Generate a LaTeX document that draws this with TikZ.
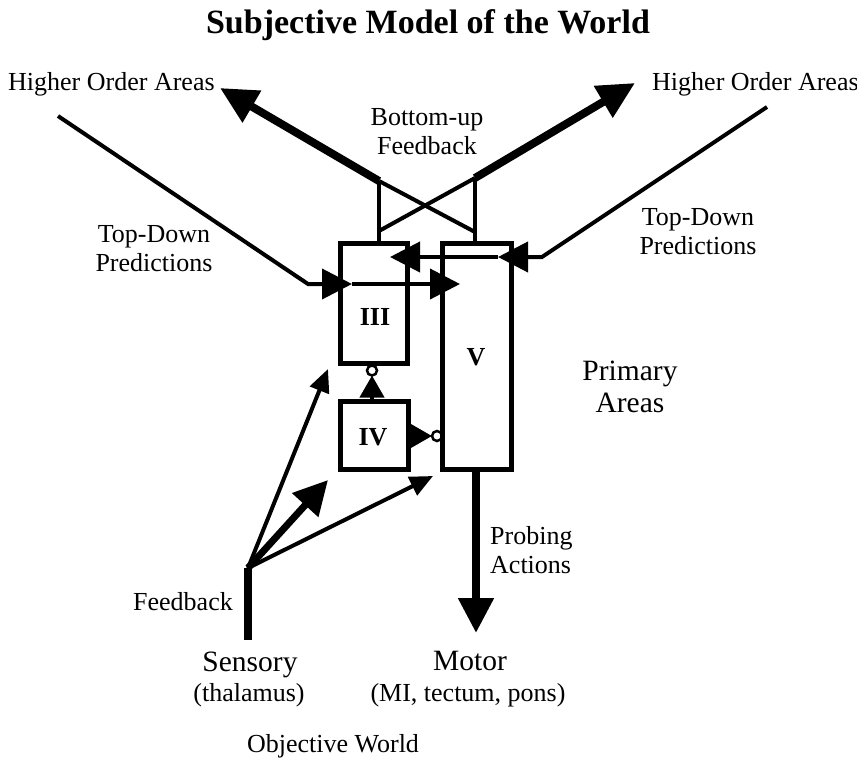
\documentclass[tikz,border=0pt]{standalone}
\usepackage{fontspec}
\setmainfont{Liberation Serif}
\usetikzlibrary{arrows.meta,calc}
\begin{document}
\begin{tikzpicture}[x=1pt,y=-1pt,
 box/.style={draw,line width=5pt,inner sep=0pt,outer sep=0pt},
 txt/.style={font=\fontsize{26}{29}\selectfont,inner sep=0pt,align=center},
 bigtxt/.style={font=\fontsize{29.5}{32}\selectfont,inner sep=0pt,align=center},
 roman/.style={font=\bfseries\fontsize{26}{28}\selectfont,inner sep=0pt},
 conn/.style={line width=4pt},
 heavy/.style={line width=8pt},
 inhib/.style={circle,draw,line width=2.5pt,minimum size=10pt,inner sep=0pt,outer sep=0pt},
 tdtip/.style={-{Triangle[length=30pt,width=30pt]}},
 bigtip/.style={-{Triangle[length=37pt,width=35pt]}},
 thintip/.style={-{Triangle[length=23pt,width=20pt]}},
 smalltip/.style={-{Triangle[length=22pt,width=24pt]}}
]
\useasboundingbox (0,0) rectangle (857,761);

% boxes
\node[box,minimum width=67pt,minimum height=120.5pt] (III) at (374,303.25) {};
\node[box,minimum width=68.5pt,minimum height=226.5pt] (V) at (476.75,356.25) {};
\node[box,minimum width=67.5pt,minimum height=68pt] (IV) at (374.25,435.5) {};
\node[roman] (lIII) at (375,317) {III};
\node[roman] (lV) at (476,357) {V};
\node[roman] (lIV) at (373,437) {IV};

% inhibitory circles
\node[inhib] (c1) at (372,370.5) {};
\node[inhib] (c2) at (437,436) {};
\draw[conn,smalltip] (c1 |- IV.north) -- (c1.south);
\draw[conn,smalltip] (IV.east |- c2) -- (c2.west);

% bottom-up feedback
\coordinate (bl) at (379,181);
\coordinate (br) at (475,178);
\coordinate (blm) at (379,231);
\coordinate (brm) at (475,232);
\coordinate (hl) at (220,88);
\coordinate (hr) at (635,83);
\draw[conn] (bl |- III.north) -- (bl);
\draw[conn] (br |- V.north) -- (br);
\draw[conn] (bl) -- (brm);
\draw[conn] (blm) -- (br);
\draw[heavy,bigtip] (bl) -- (hl);
\draw[heavy,bigtip] (br) -- (hr);

% top-down predictions left
\coordinate (tl0) at (58,116);
\coordinate (tl1) at (308,284);
\coordinate (tl2) at (352,284);
\coordinate (tl3) at (460,284);
\draw[conn,tdtip] (tl0) -- (tl1) -- (tl2);
\draw[conn,tdtip] (tl2) -- (tl3);

% top-down predictions right
\coordinate (tr0) at (767,107);
\coordinate (tr1) at (542,257);
\coordinate (tr2) at (498,257);
\coordinate (tr3) at (390,257);
\draw[conn,tdtip] (tr0) -- (tr1) -- (tr2);
\draw[conn,tdtip] (tr2) -- (tr3);

% sensory input
\coordinate (s0) at (248,640);
\coordinate (s1) at (248,568);
\coordinate (t1) at (328,369);
\coordinate (t2) at (328,480);
\coordinate (t3) at (433,476);
\draw[heavy] (s0) -- (s1);
\draw[conn,thintip] (s1) -- (t1);
\draw[line width=7pt,-{Triangle[length=34pt,width=34pt]}] (s1) -- (t2);
\draw[conn,thintip] (s1) -- (t3);

% motor output
\coordinate (mtip) at (476,633);
\draw[heavy,-{Triangle[length=35pt,width=34pt]}] (V.south -| mtip) -- (mtip);

% texts
\node[font=\bfseries\fontsize{34}{36}\selectfont,anchor=base,inner sep=0pt] (title) at (428,33) {Subjective Model of the World};
\node[txt,anchor=base west] (hoaL) at (8,90) {Higher Order Areas};
\node[txt,anchor=base west] (hoaR) at (652,90) {Higher Order Areas};
\node[txt] (bu) at (427,132) {Bottom-up\\Feedback};
\node[txt] (tdL) at (154,249) {Top-Down\\Predictions};
\node[txt] (tdR) at (698,232) {Top-Down\\Predictions};
\node[bigtxt] (prim) at (630,387) {Primary\\Areas};
\node[txt,anchor=west,align=left] (prob) at (490,550) {Probing\\Actions};
\node[txt] (fb) at (183,602) {Feedback};
\node[bigtxt,anchor=base] (sens) at (250,671) {Sensory};
\node[txt,anchor=base] (thal) at (249,701) {(thalamus)};
\node[bigtxt,anchor=base] (motorlbl) at (470,670) {Motor};
\node[txt,anchor=base] (mi) at (468,701) {(MI, tectum, pons)};
\node[txt,anchor=base] (ow) at (333,752) {Objective World};
\end{tikzpicture}
\end{document}
